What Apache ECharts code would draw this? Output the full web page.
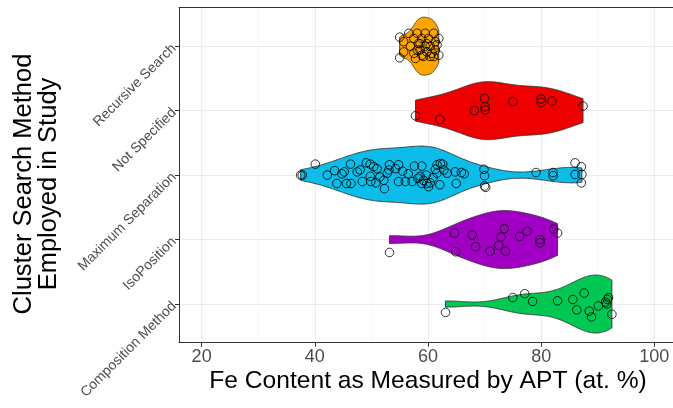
<!DOCTYPE html>
<html><head><meta charset="utf-8">
<script src="https://cdn.jsdelivr.net/npm/echarts@6/dist/echarts.min.js"></script>
<style>html,body{margin:0;padding:0;background:#fff}#c{width:673px;height:408px}</style>
</head><body><div id="c"></div>
<script>
// ---- data ----
const categories = ['Composition Method', 'IsoPosition', 'Maximum Separation', 'Not Specified', 'Recursive Search'];
const xTicks = [20, 40, 60, 80, 100];
const xMinorTicks = [30, 50, 70, 90];

const compFe = [63.1,75.0,77.1,78.5,82.9,85.6,86.3,87.6,88.5,88.9,90.1,91.4,91.7,91.9,91.6,92.5];
const compJit = [-0.13,0.10,0.16,0.04,0.05,0.07,-0.09,0.17,-0.11,-0.20,-0.03,0.03,0.07,0.10,0,-0.16];

const isoFe = [53.2,64.7,64.9,67.8,68.4,71.0,72.5,72.9,73.5,73.7,76.2,77.5,79.8,79.8,82.2,82.9];
const isoJit = [-0.20,0.10,-0.19,0.07,-0.11,-0.18,-0.09,0.04,0.17,-0.18,0.05,0.13,0,-0.05,0.16,0.10];

const maxSepFe = [37.5,37.8,40.1,42.2,43.5,43.9,44.8,45.2,45.6,46.3,
                  46.4,58.2,47.5,48.0,48.4,49.1,49.8,49.8,49.9,50.4,
                  50.8,51.0,51.5,52.2,52.3,52.8,53.2,53.1,60.9,54.3,
                  54.8,54.8,61.3,55.5,56.0,56.5,57.6,57.2,58.9,58.6,
                  59.2,58.9,59.7,59.8,60.4,60.1,61.6,61.6,62.2,62.6,
                  62.8,63.4,62.1,64.8,65.0,65.9,66.4,69.9,70.0,70.0,
                  70.2,79.1,82.1,82.1,86.0,87.1,86.0,87.2,87.1];
const maxSepJit = [0,0,0.17,0,0.07,-0.13,0.02,0.05,-0.13,0.17,
                   -0.13,-0.05,0.05,0.08,-0.10,0.19,0.17,-0.02,-0.10,0.13,
                   -0.12,0.10,-0.03,-0.08,-0.21,0.03,0.16,0.08,-0.04,0.10,
                   0.16,-0.10,0.09,0.06,-0.10,0.02,0.14,-0.10,0.14,-0.02,
                   -0.08,-0.13,0,-0.13,-0.12,-0.18,0.16,0.03,0.18,0.17,
                   0.08,0.03,-0.15,0.05,-0.13,0.04,0.02,0.09,-0.01,-0.17,
                   -0.19,0.04,0.04,-0.01,0.19,0.13,0.01,0.01,-0.12];

const notSpecFe = [57.8,62.1,68.2,70.0,70.1,70.1,75.0,80.0,80.0,81.9,87.4];
const notSpecJit = [-0.08,-0.135,0,0.19,0.06,0.01,0.14,0.18,0.13,0.15,0.07];

const recFe = [55.0,55.0,55.7,55.7,56.6,56.9,57.5,57.5,57.8,58.1,58.3,58.6,58.9,59.2,59.5,59.8,59.8,60.1,60.4,60.7,61.0,61.0,61.3,61.3,61.6,61.9,61.9,60.4,59.5,58.6,58.1,58.9];
const recJit = [0.14,-0.18,0.07,-0.09,0.20,0,0.12,-0.11,-0.19,0.20,0.04,-0.06,0.12,-0.16,0.20,0.04,-0.09,0.12,0,-0.11,0.20,-0.16,0.07,-0.06,0.02,-0.14,0.12,-0.16,0,0.04,-0.06,-0.14];

// ---- styles ----
const fills = ['#00C853', '#A100C4', '#0BBDE8', '#EE0000', '#FFA500'];
const FONT = '"Liberation Sans", Arial, Helvetica, sans-serif';

const groups = [
  {fe: compFe, jit: compJit},
  {fe: isoFe, jit: isoJit},
  {fe: maxSepFe, jit: maxSepJit},
  {fe: notSpecFe, jit: notSpecJit},
  {fe: recFe, jit: recJit}
];

// ggplot2 stat_ydensity equivalent: gaussian KDE, bw.nrd0, trimmed, scale = "width"
function q7(s, p) { const h = (s.length - 1) * p, lo = Math.floor(h), hi = Math.min(lo + 1, s.length - 1); return s[lo] + (h - lo) * (s[hi] - s[lo]); }
function bwNrd0(x) {
  const n = x.length, m = x.reduce((a, b) => a + b, 0) / n;
  const sd = Math.sqrt(x.reduce((a, b) => a + (b - m) * (b - m), 0) / (n - 1));
  const s = [...x].sort((a, b) => a - b);
  let lo = Math.min(sd, (q7(s, 0.75) - q7(s, 0.25)) / 1.34);
  if (!(lo > 0)) lo = sd || 1;
  return 0.9 * lo * Math.pow(n, -0.2);
}
function violin(x) {
  const bw = bwNrd0(x), n = x.length, N = 256;
  const mn = Math.min(...x), mx = Math.max(...x);
  const out = [];
  let dmax = 0;
  for (let i = 0; i < N; i++) {
    const t = mn + (mx - mn) * i / (N - 1);
    let d = 0;
    for (const xi of x) { const z = (t - xi) / bw; d += Math.exp(-0.5 * z * z); }
    d /= n * bw * Math.sqrt(2 * Math.PI);
    out.push([t, d]);
    if (d > dmax) dmax = d;
  }
  return out.map(([t, d]) => [t, d / dmax]);
}
const shapes = groups.map(g => violin(g.fe));

const violinSeries = {
  type: 'custom',
  xAxisIndex: 0, yAxisIndex: 0,
  data: groups.map((g, i) => [g.fe[0], i + 1]),
  silent: true,
  z: 2,
  renderItem: function (params, api) {
    const i = params.dataIndex, k = i + 1, prof = shapes[i];
    const pts = [];
    for (const [t, w] of prof) pts.push(api.coord([t, k + w * 0.45]));
    for (let j = prof.length - 1; j >= 0; j--) pts.push(api.coord([prof[j][0], k - prof[j][1] * 0.45]));
    return {type: 'polygon', shape: {points: pts}, style: {fill: fills[i], stroke: '#333333', lineWidth: 0.9}};
  }
};

const pointSeries = {
  type: 'scatter',
  xAxisIndex: 0, yAxisIndex: 0,
  z: 5,
  silent: true,
  symbol: 'circle',
  symbolSize: 8.6,
  itemStyle: {color: 'rgba(0,0,0,0)', borderColor: '#000', borderWidth: 0.8, opacity: 1},
  data: groups.flatMap((g, i) => g.fe.map((v, j) => [v, i + 1 + g.jit[j]]))
};

const chart = echarts.init(document.getElementById('c'), null, {renderer: 'canvas'});
chart.setOption({
  animation: false,
  backgroundColor: '#fff',
  grid: {left: 179, right: 0, top: 7.5, bottom: 65.3, containLabel: false, outerBoundsMode: 'none', show: false},
  xAxis: [
    {type: 'value', min: 16, max: 103.3, position: 'bottom',
     axisLine: {show: true, onZero: false, lineStyle: {color: '#333333', width: 1}},
     axisTick: {show: true, length: 4, customValues: xTicks, lineStyle: {color: '#333333'}},
     axisLabel: {show: true, customValues: xTicks, color: '#4D4D4D', fontSize: 18, fontFamily: FONT, margin: 5},
     splitLine: {show: true, lineStyle: {color: '#EBEBEB', width: 1.1}}},
    {type: 'value', min: 16, max: 103.3, position: 'top',
     axisLine: {show: true, onZero: false, lineStyle: {color: '#333333', width: 1}},
     axisLabel: {show: false},
     axisTick: {show: false, customValues: xMinorTicks},
     splitLine: {show: true, lineStyle: {color: '#F4F4F4', width: 0.6}}}
  ],
  yAxis: {type: 'value', min: 0.4, max: 5.6,
    axisLine: {show: true, onZero: false, lineStyle: {color: '#333333', width: 1}},
    axisTick: {show: true, length: 4, customValues: [1, 2, 3, 4, 5], lineStyle: {color: '#333333'}},
    axisLabel: {show: true, customValues: [1, 2, 3, 4, 5], rotate: 45, color: '#4D4D4D', fontSize: 14, fontFamily: FONT, margin: 5,
      formatter: v => categories[Math.round(v) - 1]},
    splitLine: {show: true, lineStyle: {color: '#EBEBEB', width: 1.1}}},
  graphic: [
    {type: 'text', x: 428, y: 381, style: {text: 'Fe Content as Measured by APT (at. %)', font: '24.6px ' + FONT, fill: '#000', align: 'center', verticalAlign: 'middle'}},
    {type: 'text', x: 24, y: 184, rotation: Math.PI / 2, style: {text: 'Cluster Search Method', font: '25.5px ' + FONT, fill: '#000', align: 'center', verticalAlign: 'middle'}},
    {type: 'text', x: 49, y: 184, rotation: Math.PI / 2, style: {text: 'Employed in Study', font: '25.5px ' + FONT, fill: '#000', align: 'center', verticalAlign: 'middle'}}
  ],
  series: [violinSeries, pointSeries]
});
</script></body></html>
